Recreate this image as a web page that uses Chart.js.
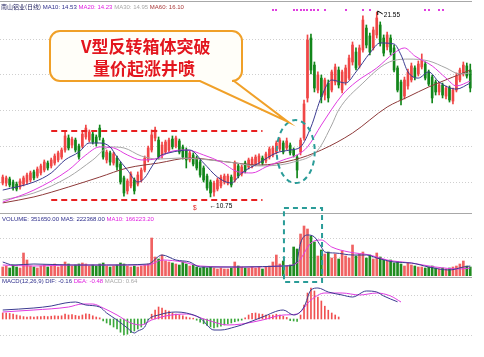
<!DOCTYPE html>
<html><head><meta charset="utf-8">
<script src="https://cdn.jsdelivr.net/npm/chart.js@4.4.1/dist/chart.umd.min.js"></script>
<style>
html,body{margin:0;padding:0;background:#fff;}
#wrap{position:relative;width:484px;height:357px;overflow:hidden;background:#fff;}
#wrap canvas{position:absolute;left:0;}
.t{position:absolute;white-space:nowrap;font-family:"Liberation Sans",Arial,sans-serif;font-size:6px;line-height:6px;}
.cjk{font-family:"Noto Sans CJK SC",sans-serif;}
.call{position:absolute;white-space:nowrap;font-family:"Noto Sans CJK SC",sans-serif;font-weight:bold;font-size:17px;line-height:19px;color:#e3161e;}
</style></head><body>
<div id="wrap">
<canvas id="cPrice" width="484" height="212" style="top:0;width:484px;height:212px"></canvas>
<canvas id="cVol" width="484" height="64" style="top:212px;width:484px;height:64px"></canvas>
<canvas id="cMacd" width="484" height="73" style="top:279px;width:484px;height:73px"></canvas>
<canvas id="cOver" width="484" height="357" style="top:0;width:484px;height:357px"></canvas>
<div class="t" style="left:1px;top:4px"><span class="cjk" style="color:#1c1c5a">南山铝业(日线)</span> <span style="color:#2e2e8c">MA10: 14.53</span> <span style="color:#e020e0">MA20: 14.23</span> <span style="color:#a8a8a8">MA30: 14.95</span> <span style="color:#a83838">MA60: 16.10</span></div>
<div class="t" style="left:2px;top:216px"><span style="color:#2e2e8c">VOLUME: 351650.00</span> <span style="color:#2e2e8c">MA5: 222368.00</span> <span style="color:#e020e0">MA10: 166223.20</span></div>
<div class="t" style="left:2px;top:278px"><span style="color:#2e2e8c">MACD(12,26,9)</span> <span style="color:#2e2e8c">DIF: -0.16</span> <span style="color:#e020e0">DEA: -0.48</span> <span style="color:#a8a8a8">MACD: 0.64</span></div>
<div class="call" style="left:81px;top:36px">V型反转箱体突破</div>
<div class="call" style="left:93px;top:58px">量价起涨井喷</div>
</div>
<script>
// ---------- data ----------
const N = 136;
const days = Array.from({length: N}, (_, i) => 'D' + (i + 1));

const open = [
11.56,11.56,11.80,11.62,11.50,11.33,11.50,11.62,11.74,12.21,
11.97,12.15,12.32,12.73,12.56,12.73,12.91,13.08,13.49,14.19,
13.78,14.07,13.72,13.72,14.25,14.07,14.42,14.25,14.77,14.07,
12.91,13.32,12.73,13.02,12.67,11.86,11.10,11.39,11.74,11.50,
11.74,12.32,12.91,13.49,14.19,14.07,13.20,13.37,13.49,14.13,
13.72,14.02,13.67,13.49,12.91,13.20,13.02,12.79,12.44,11.97,
11.62,11.04,11.21,11.39,11.62,11.56,11.91,11.74,12.56,12.09,
12.73,12.50,12.56,12.67,12.79,13.02,12.85,13.08,13.20,13.37,
13.55,13.90,13.61,13.78,13.49,13.08,13.37,14.19,16.53,20.03,
18.45,16.99,17.69,16.70,17.40,16.99,17.46,18.16,16.99,17.46,
17.69,18.63,19.21,18.45,19.33,20.61,20.15,19.45,20.21,20.79,
20.03,19.51,20.03,19.45,18.28,17.46,16.64,17.23,17.58,18.28,
17.93,18.34,18.51,18.05,17.75,17.46,16.88,17.29,16.64,17.11,
16.35,16.99,17.58,17.93,18.40,18.16];
const high = [
12.03,11.97,11.91,11.74,11.62,11.80,11.97,12.15,12.26,12.32,
12.50,12.67,12.91,12.85,13.02,13.26,13.43,13.61,14.54,14.37,
14.25,14.19,13.84,14.54,14.95,14.66,14.54,14.37,14.95,14.19,
13.49,13.43,13.37,13.14,12.79,11.97,11.80,12.21,11.86,12.21,
12.44,13.14,13.72,14.66,14.83,14.25,13.96,14.07,14.19,14.31,
14.31,14.13,13.78,13.61,13.43,13.32,13.14,12.91,12.56,12.09,
11.74,11.68,11.86,12.03,12.09,12.09,12.03,12.85,12.67,12.61,
12.85,13.02,13.08,13.20,13.26,13.14,13.37,13.67,13.72,14.02,
14.19,14.02,14.19,13.90,13.61,13.20,14.19,16.41,20.21,20.26,
18.63,18.05,17.87,17.69,17.58,18.16,18.51,18.34,18.16,18.45,
19.04,19.80,19.45,19.62,21.32,20.79,20.32,20.67,21.55,20.97,
20.21,20.38,20.21,19.62,18.40,17.58,17.75,18.22,18.57,18.40,
18.69,19.10,18.63,18.16,17.87,17.58,17.46,17.40,17.23,17.23,
17.11,17.99,18.28,18.63,18.57,18.51];
const low = [
11.45,11.39,11.33,11.15,11.10,11.21,11.39,11.50,11.62,11.74,
11.86,12.03,12.21,12.32,12.44,12.61,12.79,12.96,13.37,13.49,
13.61,13.37,12.96,13.61,14.13,13.96,13.84,13.72,14.07,12.96,
12.73,12.61,12.61,12.32,11.50,10.80,10.92,11.27,10.92,11.39,
11.62,12.21,12.79,13.37,14.02,12.96,13.02,13.26,13.37,13.55,
13.61,13.26,12.96,12.44,12.79,12.56,12.32,11.91,11.62,11.15,
10.75,10.80,11.10,11.27,11.50,11.45,11.33,11.62,11.86,11.97,
12.15,12.38,12.44,12.56,12.67,12.61,12.73,12.96,13.08,13.26,
13.43,13.26,13.49,13.20,13.08,11.86,13.20,14.07,16.29,17.93,
16.88,16.82,16.24,16.41,16.29,16.88,17.29,17.11,16.82,17.29,
17.58,18.45,18.16,18.28,19.21,19.45,19.04,19.33,20.03,19.56,
18.98,19.33,19.04,18.05,16.88,16.12,16.47,17.05,17.46,17.58,
17.81,18.22,17.58,17.23,16.24,16.70,16.70,16.53,16.47,16.29,
16.18,16.88,17.46,17.81,17.69,16.88];
const close = [
11.91,11.86,11.45,11.27,11.21,11.68,11.86,12.03,12.15,11.86,
12.38,12.56,12.79,12.44,12.91,13.14,13.32,13.49,14.31,13.61,
14.13,13.49,13.08,14.42,14.77,14.54,13.96,13.90,14.25,13.08,
13.37,12.79,13.26,12.50,11.62,10.98,11.68,12.09,11.10,12.03,
12.32,13.02,13.61,14.37,14.66,13.08,13.78,13.96,14.07,13.67,
14.19,13.37,13.08,12.91,13.32,12.67,12.44,12.03,11.74,11.27,
10.98,11.56,11.74,11.91,11.97,11.97,11.45,12.73,11.97,12.50,
12.26,12.91,12.96,13.08,13.14,12.73,13.26,13.55,13.61,13.90,
14.07,13.37,14.02,13.32,13.20,12.32,14.07,16.18,19.91,18.16,
17.11,17.87,16.59,17.58,16.53,18.05,18.34,17.29,18.05,18.28,
18.86,19.62,18.28,19.45,21.08,19.62,19.21,20.50,21.20,19.74,
19.15,20.21,19.21,18.16,16.99,16.41,17.58,18.05,18.40,17.75,
18.51,18.75,17.69,17.34,16.53,16.88,17.29,16.70,17.11,16.41,
16.99,17.81,18.16,18.45,17.81,17.11];

// moving averages (day index, value)
const ma10Idx = [0,9,14,18,22,25,28,31,33,36,39,41,43,45,48,54,58,62,66,69,74,79,83,86,89,92,95,99,102,106,109,113,115,117,120,123,126,131,135];
const ma10Val = [11.15,11.62,12.15,12.91,13.37,13.90,13.90,13.67,13.08,12.32,11.62,11.86,12.50,13.08,13.32,13.49,12.73,11.91,11.56,12.15,12.73,13.32,13.49,13.67,14.83,16.59,17.58,17.40,18.05,19.15,19.74,19.68,19.04,18.05,17.69,18.05,17.46,17.05,17.40];
const ma20Idx = [0,9,19,24,28,32,36,40,45,48,53,58,63,68,72,76,81,85,88,92,98,102,108,113,116,119,124,128,131,135];
const ma20Val = [10.45,11.15,12.32,13.20,13.67,13.61,13.20,12.91,13.02,13.37,13.49,13.20,12.79,12.21,12.15,12.50,12.91,13.20,13.67,14.95,16.70,17.46,18.28,19.15,19.45,18.98,18.40,17.69,17.23,17.52];
const ma30Idx = [0,9,19,26,31,35,40,45,51,65,74,84,91,95,97,104,111,117,123,128,132,135];
const ma30Val = [10.57,10.98,11.91,12.91,13.67,13.61,13.14,12.96,13.02,12.79,12.56,12.79,13.49,14.95,15.83,17.40,18.57,18.80,18.69,18.28,17.93,17.99];
const ma60Idx = [0,9,19,28,36,45,54,65,74,84,92,101,111,117,123,130,135];
const ma60Val = [10.40,10.75,11.33,11.91,12.44,12.73,13.02,12.79,12.61,12.91,13.49,14.48,16.00,16.59,17.17,17.75,18.16];

const volume = [
180000,200000,160000,220000,180000,160000,460000,320000,200000,180000,
160000,200000,220000,180000,200000,240000,180000,220000,280000,240000,
200000,220000,240000,260000,240000,200000,220000,200000,240000,260000,
200000,180000,200000,220000,260000,240000,200000,180000,200000,180000,
200000,220000,240000,760000,380000,340000,420000,300000,280000,260000,
240000,220000,280000,240000,200000,220000,180000,160000,180000,160000,
180000,160000,140000,160000,140000,140000,160000,280000,200000,180000,
160000,160000,180000,160000,180000,140000,180000,200000,280000,420000,
240000,300000,200000,220000,580000,540000,840000,1000000,940000,800000,
680000,400000,520000,440000,480000,360000,440000,340000,500000,400000,
360000,620000,400000,440000,480000,360000,420000,340000,460000,380000,
320000,300000,320000,260000,280000,240000,200000,260000,220000,200000,
180000,180000,160000,180000,200000,160000,140000,160000,140000,160000,
180000,200000,240000,300000,200000,180000];
const vma5Idx = [0,3,9,20,30,42,46,50,54,57,69,81,84,85,86,88,90,92,93,96,101,105,108,113,118,123,129,133,135];
const vma5Val = [280000,220000,240000,220000,220000,240000,420000,320000,280000,180000,180000,200000,220000,320000,660000,820000,780000,580000,480000,460000,420000,420000,360000,280000,260000,180000,120000,180000,200000];
const vma10Idx = [0,9,20,30,42,46,52,57,69,81,85,89,92,95,100,106,111,118,125,132,135];
const vma10Val = [220000,200000,220000,220000,220000,320000,280000,200000,180000,200000,260000,660000,720000,580000,480000,420000,320000,260000,180000,140000,160000];

const macdHist = [
0.15,0.15,0.14,0.12,0.10,0.08,0.06,0.05,0.06,0.05,
0.06,0.06,0.07,0.06,0.07,0.08,0.07,0.08,0.12,0.10,
0.11,0.09,0.07,0.10,0.13,0.12,0.08,0.05,0.03,-0.05,
-0.10,-0.15,-0.20,-0.25,-0.33,-0.40,-0.38,-0.34,-0.30,-0.25,
-0.20,-0.12,-0.02,0.12,0.22,0.30,0.27,0.22,0.20,0.15,
0.12,0.10,0.08,0.05,0.03,0.02,-0.03,-0.08,-0.12,-0.16,
-0.20,-0.22,-0.20,-0.18,-0.15,-0.12,-0.10,-0.07,-0.05,-0.03,
0.03,0.10,0.14,0.15,0.13,0.12,0.10,0.09,0.10,0.12,
0.10,0.07,0.04,-0.04,-0.05,-0.06,0.10,0.35,0.65,0.77,
0.70,0.55,0.45,0.32,0.22,0.15,0.10,0.05];
const difIdx = [0,9,14,18,21,24,28,30,33,36,38,39,41,42,45,50,53,57,61,63,67,69,75,81,84,87,89,91,94,98,101,105,108,110,114];
const difVal = [0.225,0.275,0.325,0.40,0.425,0.35,0.30,0.15,-0.025,-0.225,-0.35,-0.30,-0.20,-0.025,0.10,0.175,0.15,0.025,-0.275,-0.275,-0.20,-0.15,0.05,0.225,0.10,0.30,0.725,0.775,0.675,0.60,0.55,0.70,0.675,0.575,0.43];
const deaIdx = [0,9,19,23,26,29,33,37,40,43,47,53,59,65,69,75,81,85,89,93,98,103,108,112,115];
const deaVal = [0.175,0.225,0.30,0.375,0.375,0.275,0.10,-0.10,-0.15,-0.025,0.075,0.125,-0.025,-0.15,-0.125,-0.025,0.10,0.125,0.475,0.65,0.65,0.60,0.65,0.575,0.425];

// faint grid levels
const priceGrid = [20.0, 17.9, 15.8, 13.7, 11.6];
const volGrid = [760000, 380000];
const macdGrid = [0.6, -0.4];

// annotations
const boxTop = 14.60, boxBottom = 10.57, boxFrom = 14, boxTo = 75;
const markIdx = [78,79,84,85,86,87,88,89,90,91,93,99,104,106,122,123,126,127];
const peakIdx = 108, lowIdx = 60;

// ---------- helpers ----------
const RED = '#f04646', GREEN = '#12861a';
const VRED = '#f06262', VGREEN = '#1f8c1f';
function sparse(idx, val) { const a = new Array(N).fill(null); idx.forEach((k, j) => a[k] = val[j]); return a; }
const up = close.map((c, i) => c >= open[i]);

const gridPlugin = {
  id: 'dotGrid',
  beforeDatasetsDraw(chart, args, opts) {
    const {ctx, chartArea, scales} = chart;
    ctx.save();
    ctx.strokeStyle = '#cfcfcf'; ctx.lineWidth = 1; ctx.setLineDash([1, 2]);
    (opts.values || []).forEach(v => {
      const y = Math.round(scales.y.getPixelForValue(v)) + 0.5;
      ctx.beginPath(); ctx.moveTo(0, y); ctx.lineTo(chartArea.right, y); ctx.stroke();
    });
    ctx.restore();
  }
};
function lineDs(data, color, order) {
  return {type: 'line', data, borderColor: color, borderWidth: 1, pointRadius: 0, spanGaps: true,
          cubicInterpolationMode: 'monotone', order: order || 0};
}
function baseOpts(min, max, grid) {
  return {
    responsive: false, animation: false, events: [],
    layout: {padding: {left: 1, right: 12, top: 0, bottom: 0}},
    scales: {x: {display: false, offset: true}, y: {display: false, min, max}},
    plugins: {legend: {display: false}, tooltip: {enabled: false}, dotGrid: {values: grid}}
  };
}

// ---------- price chart ----------
const chartP = new Chart(document.getElementById('cPrice'), {
  type: 'bar',
  data: {labels: days, datasets: [
    lineDs(sparse(ma10Idx, ma10Val), '#3b3b90'),
    lineDs(sparse(ma20Idx, ma20Val), '#e03ce0'),
    lineDs(sparse(ma30Idx, ma30Val), '#a6a6a6'),
    lineDs(sparse(ma60Idx, ma60Val), '#8e3a3a'),
    {data: low.map((l, i) => [l, high[i]]), backgroundColor: up.map(u => u ? RED : GREEN),
     barThickness: 1, grouped: false, borderWidth: 0, order: 3},
    {data: open.map((o, i) => [o, close[i]]), backgroundColor: up.map(u => u ? RED : GREEN),
     barThickness: 2, minBarLength: 1, grouped: false, borderWidth: 0, order: 2}
  ]},
  options: baseOpts(9.87, 22.25, priceGrid),
  plugins: [gridPlugin]
});

// ---------- volume chart ----------
const chartV = new Chart(document.getElementById('cVol'), {
  type: 'bar',
  data: {labels: days, datasets: [
    lineDs(sparse(vma5Idx, vma5Val), '#3b3b90'),
    lineDs(sparse(vma10Idx, vma10Val), '#e03ce0'),
    {data: volume, backgroundColor: up.map(u => u ? VRED : VGREEN), barThickness: 2,
     grouped: false, borderWidth: 0, order: 2}
  ]},
  options: baseOpts(0, 1280000, volGrid),
  plugins: [gridPlugin]
});

// ---------- MACD chart ----------
const histData = days.map((d, i) => i < macdHist.length ? macdHist[i] : null);
const chartM = new Chart(document.getElementById('cMacd'), {
  type: 'bar',
  data: {labels: days, datasets: [
    lineDs(sparse(difIdx, difVal), '#3b3b90'),
    lineDs(sparse(deaIdx, deaVal), '#e03ce0'),
    {data: histData, backgroundColor: histData.map(v => v >= 0 ? '#f05050' : '#3aa83a'),
     barThickness: 1, grouped: false, borderWidth: 0, order: 2}
  ]},
  options: baseOpts(-0.825, 1.0, macdGrid),
  plugins: [gridPlugin]
});

// ---------- overlay annotations ----------
const o = document.getElementById('cOver').getContext('2d');
const px = i => chartP.scales.x.getPixelForValue(i);
const py = v => chartP.scales.y.getPixelForValue(v);

// panel separators
o.strokeStyle = '#a8a8a8'; o.lineWidth = 1;
[1.5, 213.5, 277.5].forEach(y => { o.beginPath(); o.moveTo(0, y); o.lineTo(472, y); o.stroke(); });

// box range dashed lines
o.save();
o.strokeStyle = '#e82020'; o.lineWidth = 2; o.setLineDash([6, 4]);
[boxTop, boxBottom].forEach(v => {
  const y = Math.round(py(v));
  o.beginPath(); o.moveTo(px(boxFrom), y); o.lineTo(px(boxTo), y); o.stroke();
});
o.restore();

// teal dashed ellipse + rectangle
o.save();
o.strokeStyle = '#2a9c98'; o.lineWidth = 2; o.setLineDash([5, 4]);
o.beginPath(); o.ellipse(px(84.6), py(13.40), 19, 31.5, 0, 0, Math.PI * 2); o.stroke();
const rx1 = px(81.2), rx2 = px(92.2);
o.beginPath(); o.rect(rx1, 208, rx2 - rx1, 74); o.stroke();
o.restore();

// callout balloon
(function () {
  const L = 50, T = 31, R = 242, B = 81, r = 10;
  const tipX = px(82.3), tipY = py(15.15);
  o.save();
  o.lineWidth = 2; o.strokeStyle = '#f0a028'; o.fillStyle = '#fffef9';
  o.beginPath();
  o.moveTo(L + r, T); o.lineTo(R - r, T); o.arcTo(R, T, R, T + r, r);
  o.lineTo(R, B - r); o.arcTo(R, B, R - r, B, r);
  o.lineTo(234, B); o.lineTo(tipX, tipY); o.lineTo(200, B);
  o.lineTo(L + r, B); o.arcTo(L, B, L, B - r, r);
  o.lineTo(L, T + r); o.arcTo(L, T, L + r, T, r); o.closePath();
  o.fill(); o.stroke();
  o.restore();
})();

// event marks at top
o.fillStyle = '#e040e0';
markIdx.forEach(i => { o.fillRect(Math.round(px(i)) - 1, 9, 2, 2); });

// peak / low labels
o.save();
const xh = px(peakIdx), yh = py(high[peakIdx]);
o.strokeStyle = '#000'; o.lineWidth = 1;
o.beginPath(); o.moveTo(xh + 1, yh + 3); o.lineTo(xh + 1, yh - 1); o.lineTo(xh + 6, yh + 2); o.stroke();
o.fillStyle = '#000'; o.font = '6.5px "Liberation Sans", "DejaVu Sans", sans-serif'; o.textBaseline = 'middle';
o.fillText('21.55', xh + 7, yh + 3);
const xl = px(lowIdx), yl = py(low[lowIdx]);
o.fillText('\u219010.75', xl - 1, yl + 9);
o.fillStyle = '#e02020';
o.fillText('$', 193, 208);
o.restore();
</script>
</body></html>
